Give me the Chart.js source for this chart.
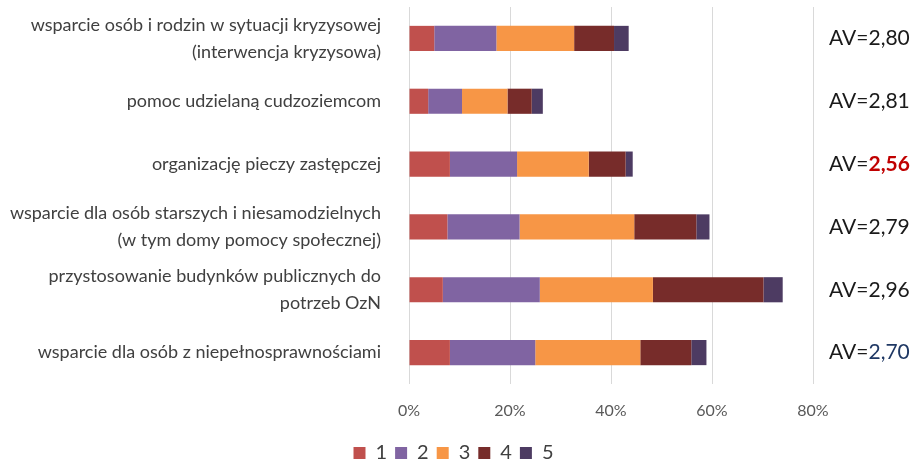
<!DOCTYPE html>
<html><head><meta charset="utf-8">
<script src="https://cdn.jsdelivr.net/npm/chart.js@4.4.1/dist/chart.umd.min.js"></script>
<style>html,body{margin:0;padding:0;background:#fff}#wrap{width:917px;height:461px}</style>
</head><body><div id="wrap"><canvas id="c" width="917" height="461"></canvas></div>
<script>
const categories = [
  ['wsparcie osób i rodzin w sytuacji kryzysowej', '(interwencja kryzysowa)'],
  'pomoc udzielaną cudzoziemcom',
  'organizację pieczy zastępczej',
  ['wsparcie dla osób starszych i niesamodzielnych', '(w tym domy pomocy społecznej)'],
  ['przystosowanie budynków publicznych do', 'potrzeb OzN'],
  'wsparcie dla osób z niepełnosprawnościami'
];
const seriesNames = ['1', '2', '3', '4', '5'];
const s1 = [5.0, 3.8, 8.1, 7.6, 6.7, 8.1];
const s2 = [12.3, 6.7, 13.3, 14.3, 19.2, 16.9];
const s3 = [15.4, 9.0, 14.2, 22.7, 22.4, 20.8];
const s4 = [7.9, 4.8, 7.3, 12.3, 21.9, 10.1];
const s5 = [2.9, 2.2, 1.4, 2.6, 3.8, 3.0];
const avValues = ['2,80', '2,81', '2,56', '2,79', '2,96', '2,70'];
const avColors = ['#1a1a1a', '#1a1a1a', '#C00000', '#1a1a1a', '#1a1a1a', '#1F3864'];
const avBold = [false, false, true, false, false, false];
const xTicks = [0, 20, 40, 60, 80];

const colors = ['#C0504D', '#8064A2', '#F79646', '#772C2A', '#4D3B62'];
const FONT = 'Lato, "Liberation Sans", sans-serif';

const avPlugin = {
  id: 'avLabels',
  afterLayout(chart) {
    const lg = chart.legend;
    if (lg) {
      const dy = 454 - (lg.top + lg.bottom) / 2;
      lg.top += dy; lg.bottom += dy;
      const dx = 453.5 - (lg.left + lg.right) / 2;
      lg.left += dx; lg.right += dx;
    }
  },
  afterDraw(chart) {
    const ctx = chart.ctx;
    const y = chart.scales.y;
    ctx.save();
    ctx.textBaseline = 'middle';
    avValues.forEach((v, i) => {
      const yy = y.getPixelForValue(i);
      const x0 = 829;
      ctx.font = '21px ' + FONT;
      ctx.fillStyle = '#1a1a1a';
      ctx.fillText('AV=', x0, yy);
      const w = ctx.measureText('AV=').width;
      ctx.font = (avBold[i] ? 'bold ' : '') + '21px ' + FONT;
      ctx.fillStyle = avColors[i];
      ctx.fillText(v, x0 + w, yy);
    });
    ctx.restore();
  }
};

new Chart(document.getElementById('c'), {
  type: 'bar',
  data: {
    labels: categories,
    datasets: [s1, s2, s3, s4, s5].map((d, i) => ({
      label: seriesNames[i],
      data: d,
      backgroundColor: colors[i],
      borderWidth: 0,
      barPercentage: 0.4,
      categoryPercentage: 1.0
    }))
  },
  options: {
    indexAxis: 'y',
    responsive: false,
    animation: false,
    layout: { padding: { top: 7, right: 104, left: 0, bottom: 0 } },
    scales: {
      x: {
        stacked: true,
        min: 0, max: 80,
        afterBuildTicks: s => { s.ticks = xTicks.map(v => ({ value: v })); },
        afterFit: s => { s.height = 39; s.paddingLeft = 0; s.paddingRight = 0; },
        grid: { color: '#D9D9D9', lineWidth: 1, drawTicks: false },
        border: { display: false },
        ticks: {
          padding: 17,
          color: '#595959',
          font: { family: FONT, size: 16 },
          callback: v => v + '%'
        }
      },
      y: {
        stacked: true,
        grid: { display: false },
        border: { display: false },
        afterFit: s => { s.width = 409; s.paddingTop = 0; s.paddingBottom = 0; },
        ticks: {
          autoSkip: false,
          padding: 20,
          color: '#404040',
          font: { family: FONT, size: 18, lineHeight: 1.5 }
        }
      }
    },
    plugins: {
      legend: {
        position: 'bottom',
        labels: {
          boxWidth: 12, boxHeight: 12, padding: 8,
          color: '#404040',
          font: { family: FONT, size: 20 }
        }
      },
      tooltip: { enabled: false }
    }
  },
  plugins: [avPlugin]
});
</script></body></html>
